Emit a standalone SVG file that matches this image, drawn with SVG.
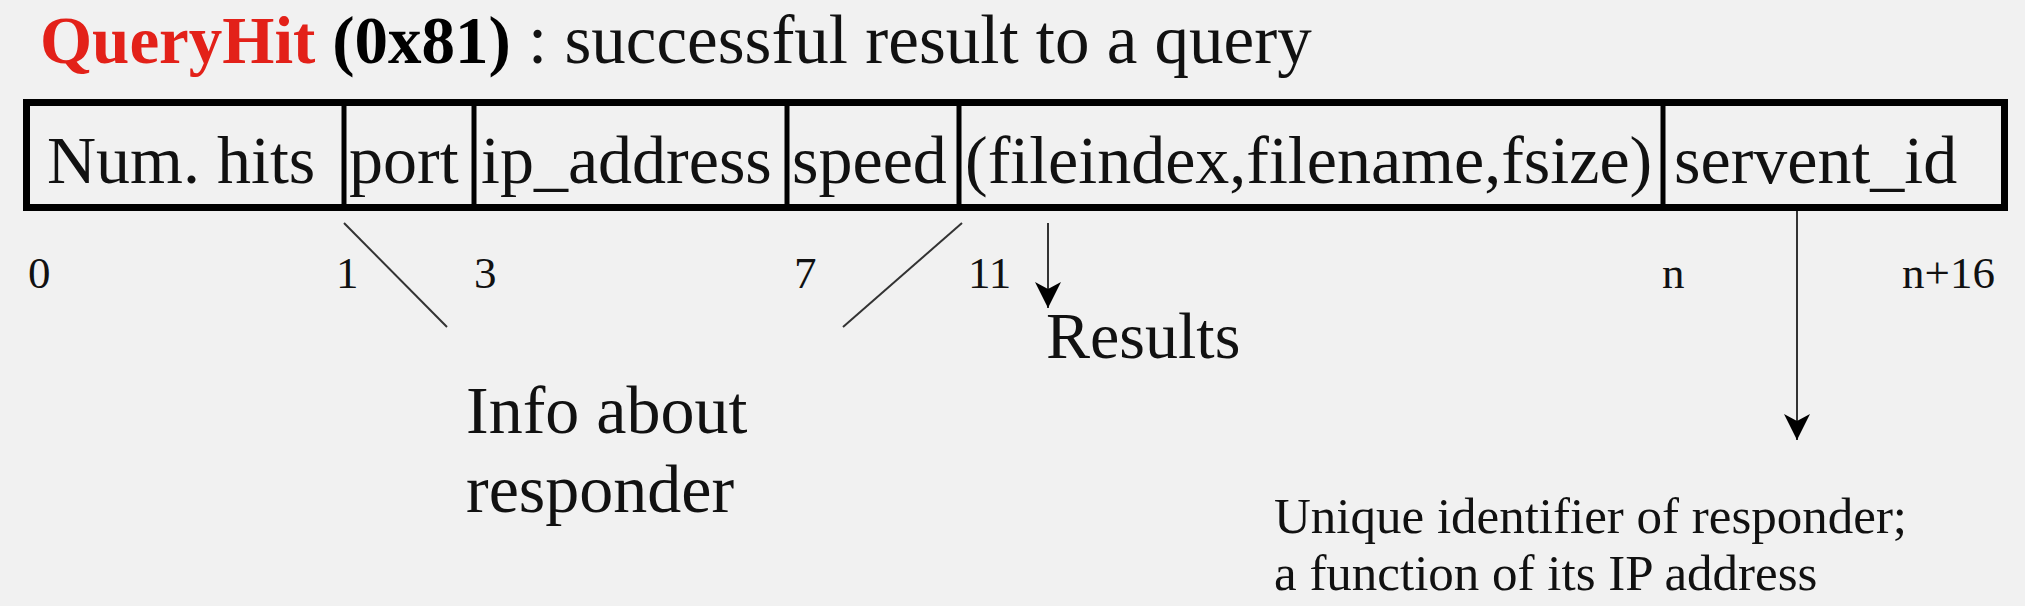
<svg xmlns="http://www.w3.org/2000/svg" width="2025" height="606" viewBox="0 0 2025 606">
  <defs>
    <style>
      .serif { font-family: "Liberation Serif", "Times New Roman", serif; fill: #111; }
      .cell { font-size: 68px; }
      .num { font-size: 45px; }
      .small { font-size: 51px; }
      .frame { fill: none; stroke: #000; stroke-width: 7; }
      .div { stroke: #000; stroke-width: 5; }
      .conn { stroke: #333; stroke-width: 2; fill: none; }
    </style>
    <marker id="arrow" markerUnits="userSpaceOnUse" viewBox="0 -14 28 28" markerWidth="28" markerHeight="28" refX="26" refY="0" orient="auto">
      <path d="M0,-13 L26,0 L0,13 L7,0 Z" fill="#000"/>
    </marker>
  </defs>
  <rect width="2025" height="606" fill="#f1f1f1"/>

  <g id="title">
    <text x="40" y="63" class="serif" style="font-size:67px"><tspan font-weight="bold" fill="#e32119">QueryHit</tspan> <tspan font-weight="bold" fill="#000">(0x81)</tspan><tspan style="font-size:69px"> : successful result to a query</tspan></text>
  </g>

  <g id="record">
    <rect class="frame" x="26.5" y="102.5" width="1978" height="105"/>
    <line class="div" x1="344" y1="103" x2="344" y2="207"/>
    <line class="div" x1="474" y1="103" x2="474" y2="207"/>
    <line class="div" x1="787" y1="103" x2="787" y2="207"/>
    <line class="div" x1="959" y1="103" x2="959" y2="207"/>
    <line class="div" x1="1663" y1="103" x2="1663" y2="207"/>
  </g>

  <g id="field-numhits"><text class="serif cell" x="47" y="183">Num. hits</text></g>
  <g id="field-port"><text class="serif cell" x="349" y="183">port</text></g>
  <g id="field-ip"><text class="serif cell" x="481" y="183">ip_address</text></g>
  <g id="field-speed"><text class="serif cell" x="792" y="183">speed</text></g>
  <g id="field-results"><text class="serif cell" x="965" y="183">(fileindex,filename,fsize)</text></g>
  <g id="field-servent"><text class="serif cell" x="1674" y="183">servent_id</text></g>

  <g id="offsets">
    <text class="serif num" x="28" y="288">0</text>
    <text class="serif num" x="336" y="288">1</text>
    <text class="serif num" x="474" y="288">3</text>
    <text class="serif num" x="794" y="288">7</text>
    <text class="serif num" x="968" y="288">11</text>
    <text class="serif num" x="1662" y="288">n</text>
    <text class="serif num" x="1902" y="288">n+16</text>
  </g>

  <g id="connectors">
    <line class="conn" x1="344" y1="223" x2="447" y2="327"/>
    <line class="conn" x1="962" y1="223" x2="843" y2="327"/>
    <line class="conn" x1="1048" y1="223" x2="1048" y2="308" marker-end="url(#arrow)"/>
    <line class="conn" x1="1797" y1="211" x2="1797" y2="440" marker-end="url(#arrow)"/>
  </g>

  <g id="label-results"><text class="serif" style="font-size:66px" x="1046" y="358">Results</text></g>
  <g id="label-info">
    <text class="serif" style="font-size:68px" x="466" y="433">Info about</text>
    <text class="serif" style="font-size:68px" x="466" y="512">responder</text>
  </g>
  <g id="label-servent">
    <text class="serif small" x="1274" y="533">Unique identifier of responder;</text>
    <text class="serif small" x="1274" y="590">a function of its IP address</text>
  </g>
</svg>
